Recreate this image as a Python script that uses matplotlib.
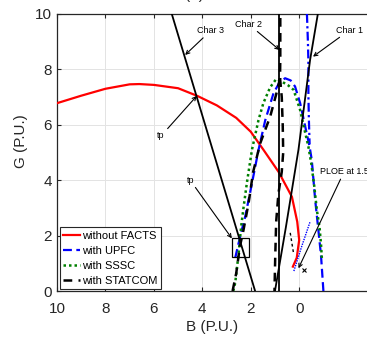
import matplotlib
matplotlib.use('Agg')
import matplotlib.pyplot as plt

plt.rcParams['font.family'] = ['Liberation Sans', 'DejaVu Sans']

# without FACTS (red)
red_b = [10, 9, 8, 7, 6.6, 6, 5, 4.2, 3.4, 2.6, 2.0, 1.47, 0.85, 0.3, 0.08, 0.0, 0.1, 0.26]
red_g = [6.78, 7.05, 7.3, 7.46, 7.47, 7.44, 7.32, 7.04, 6.7, 6.25, 5.75, 5.09, 4.3, 3.4, 2.5, 1.84, 1.2, 0.88]

# with UPFC (blue)
upfc_b = [2.64, 2.44, 2.23, 1.95, 1.68, 1.4, 1.06, 0.8, 0.58, 0.35, 0.17, -0.04, -0.25, -0.43,
          -0.52, -0.66, -0.78, -0.9, -1.0]
upfc_g = [1.2, 1.96, 2.68, 3.89, 5.09, 6.17, 7.14, 7.55, 7.68, 7.6, 7.38, 6.78, 5.93, 5.21,
          4.73, 3.29, 2.3, 1.3, 0.0]
upfc_steep_b = [-0.32, -0.36, -0.38, -0.38, -0.4, -0.43]
upfc_steep_g = [10.0, 9.0, 8.3, 7.1, 6.2, 5.3]

# with SSSC (green)
sssc_b = [2.72, 2.64, 2.5, 2.4, 2.3, 2.16, 1.95, 1.68, 1.48, 1.2, 0.95, 0.7, 0.45, 0.23, -0.04,
          -0.2, -0.38, -0.5, -0.62, -0.73, -0.84, -0.9, -0.94]
sssc_g = [0.0, 0.3, 1.36, 2.3, 3.0, 3.9, 5.1, 6.17, 6.78, 7.35, 7.65, 7.55, 7.42, 7.26, 6.53,
          5.9, 5.21, 4.6, 3.8, 2.92, 2.3, 1.7, 1.12]

# with STATCOM (black dashed)
statcom_b = [2.75, 2.6, 2.45, 2.3, 2.09, 1.9, 1.61, 1.2, 0.95, 0.79, 0.78, 0.78]
statcom_g = [0.0, 0.64, 1.6, 2.2, 3.17, 4.3, 5.33, 6.29, 7.1, 7.68, 8.5, 10.5]
statcom2_b = [0.79, 0.72, 0.68, 0.66, 0.72, 0.86, 0.95, 0.99, 1.02]
statcom2_g = [7.68, 7.0, 6.0, 5.0, 4.3, 3.5, 2.5, 1.2, 0.0]

# characteristic lines
char1_b = [1.0, 0.55, 0.03, -0.45, -0.77]
char1_g = [0.0, 2.3, 5.1, 8.34, 10.0]
char2_b = [0.82, 0.82]
char2_g = [0.0, 10.0]
char3_b = [1.82, 5.26]
char3_g = [0.0, 10.0]

# small PLOE traces
ploe_upfc_b = [0.22, -0.1, -0.45]
ploe_upfc_g = [0.72, 1.6, 2.5]
ploe_stat_b = [0.37, 0.24]
ploe_stat_g = [2.1, 1.4]

# tp box
box_b = [2.07, 2.76]
box_g = [1.24, 1.9]

xticks = [10, 8, 6, 4, 2, 0]
yticks = [0, 2, 4, 6, 8, 10]

fig = plt.figure(figsize=(3.67, 3.45), dpi=100)
ax = fig.add_axes([0.1553, 0.1565, 0.8447, 0.803])

ax.plot(red_b, red_g, color='red', lw=1.6, label='without FACTS', zorder=3)
ax.plot(upfc_b, upfc_g, color='blue', lw=1.6, ls=(0, (4, 2)), label='with UPFC', zorder=3)
ax.plot(upfc_steep_b, upfc_steep_g, color='blue', lw=1.6, ls=(0, (4, 1.5, 1, 1.5)), zorder=3)
ax.plot(sssc_b, sssc_g, color='green', lw=1.8, ls=(0, (1, 1.2)), label='with SSSC', zorder=3)
ax.plot(statcom_b, statcom_g, color='black', lw=1.8, ls=(0, (3.5, 2.5)), label='with STATCOM', zorder=3)
ax.plot(statcom2_b, statcom2_g, color='black', lw=1.8, ls=(0, (3.5, 2.5)), zorder=3)

ax.plot(char1_b, char1_g, color='black', lw=1.3, zorder=4)
ax.plot(char2_b, char2_g, color='black', lw=1.3, zorder=4)
ax.plot(char3_b, char3_g, color='black', lw=1.3, zorder=4)

ax.plot(ploe_upfc_b, ploe_upfc_g, color='blue', lw=1.0, ls=(0, (1, 0.8)), zorder=3)
ax.plot(ploe_stat_b, ploe_stat_g, color='black', lw=1.0, ls=(0, (2, 2)), zorder=3)
ax.plot([-0.18], [0.75], marker='x', color='black', ms=2.5, mew=0.8, zorder=3)

ax.add_patch(plt.Rectangle((box_b[0], box_g[0]), box_b[1] - box_b[0], box_g[1] - box_g[0],
                           fill=False, ec='black', lw=0.9, zorder=5))

arrow = dict(arrowstyle='->', color='black', lw=0.8, shrinkA=0, shrinkB=0)
ax.annotate('Char 3', xy=(4.71, 8.52), xytext=(3.65, 9.4), fontsize=6.5, ha='center', va='center',
            arrowprops=arrow)
ax.annotate('Char 2', xy=(0.81, 8.7), xytext=(2.09, 9.63), fontsize=6.5, ha='center', va='center',
            arrowprops=arrow)
ax.annotate('Char 1', xy=(-0.57, 8.46), xytext=(-2.08, 9.42), fontsize=6.5, ha='center', va='center',
            arrowprops=arrow)
ax.annotate('tp', xy=(4.23, 7.04), xytext=(5.7, 5.6), fontsize=6.5, ha='center', va='center',
            arrowprops=arrow)
ax.annotate('tp', xy=(2.78, 1.9), xytext=(4.5, 4.0), fontsize=6.5, ha='center', va='center',
            arrowprops=arrow)
ax.annotate('PLOE at 1.5', xy=(0.03, 0.82), xytext=(-1.85, 4.3), fontsize=6.5, ha='center',
            va='center', arrowprops=arrow)

ax.set_xlim(10, -2.8)
ax.set_ylim(0, 10)
ax.set_xticks(xticks)
ax.set_yticks(yticks)
ax.tick_params(direction='in', top=True, labelsize=11, colors='#262626', length=3)
ax.tick_params(axis='x', pad=8)
ax.grid(True, color='#e3e3e3', lw=0.7)
ax.set_axisbelow(True)
ax.spines['right'].set_visible(False)
for s in ['top', 'bottom', 'left']:
    ax.spines[s].set_color('#262626')
    ax.spines[s].set_linewidth(0.9)

ax.set_xlabel('B (P.U.)', fontsize=11, color='#262626', labelpad=3)
ax.set_ylabel('G (P.U.)', fontsize=11, color='#262626')
ax.yaxis.set_label_coords(-0.092, 0.54)

leg = ax.legend(loc='lower left', bbox_to_anchor=(0.01, 0.007), borderaxespad=0, fontsize=8,
                handlelength=1.5, handletextpad=0.2, labelspacing=0.45, borderpad=0.3,
                fancybox=False, framealpha=1)
leg.get_frame().set_edgecolor('#262626')
leg.get_frame().set_linewidth(0.8)

# panel title, mostly cut off at the top edge like in the source figure
fig.text(0.53, 1.004, '(a)', ha='center', va='baseline', fontsize=11, color='#262626')

fig.savefig('out.png', dpi=100)
